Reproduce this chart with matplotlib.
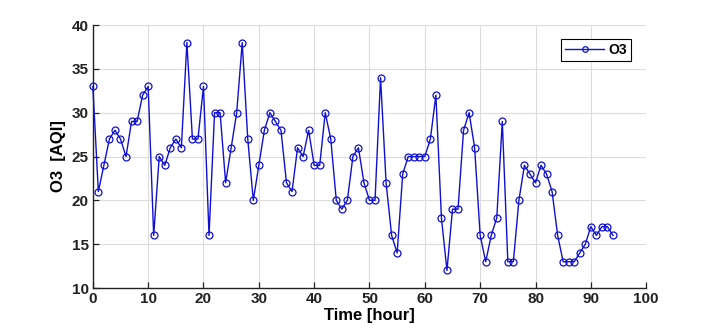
import matplotlib.pyplot as plt

plt.rcParams['font.family'] = ['Liberation Sans', 'DejaVu Sans']

hours = list(range(95))
o3 = [33, 21, 24, 27, 28, 27, 25, 29, 29, 32,
      33, 16, 25, 24, 26, 27, 26, 38, 27, 27,
      33, 16, 30, 30, 22, 26, 30, 38, 27, 20,
      24, 28, 30, 29, 28, 22, 21, 26, 25, 28,
      24, 24, 30, 27, 20, 19, 20, 25, 26, 22,
      20, 20, 34, 22, 16, 14, 23, 25, 25, 25,
      25, 27, 32, 18, 12, 19, 19, 28, 30, 26,
      16, 13, 16, 18, 29, 13, 13, 20, 24, 23,
      22, 24, 23, 21, 16, 13, 13, 13, 14, 15,
      17, 16, 17, 17, 16]
x_ticks = [0, 10, 20, 30, 40, 50, 60, 70, 80, 90, 100]
y_ticks = [10, 15, 20, 25, 30, 35, 40]

fig = plt.figure(figsize=(7.14, 3.32), dpi=100)
ax = fig.add_axes([0.130, 0.1325, 0.775, 0.792])

ax.plot(hours, o3, color='#1010d0', linewidth=1.0, marker='o',
        markersize=5, markerfacecolor='none', markeredgewidth=0.9,
        label='O3', clip_on=False, zorder=3)

ax.set_xlim(0, 100)
ax.set_ylim(10, 40)
ax.set_xticks(x_ticks)
ax.set_yticks(y_ticks)
ax.grid(True, color='#dcdcdc', linewidth=0.8)
ax.set_axisbelow(True)

for side in ['top', 'right']:
    ax.spines[side].set_visible(False)
for side in ['left', 'bottom']:
    ax.spines[side].set_linewidth(1.0)
    ax.spines[side].set_color('#222222')

ax.tick_params(direction='in', length=4, width=0.9, labelsize=11,
               colors='#222222', pad=3)
for lbl in ax.get_xticklabels() + ax.get_yticklabels():
    lbl.set_fontweight('bold')

ax.set_xlabel('Time [hour]', fontsize=12, fontweight='bold', labelpad=1)
ax.set_ylabel('O3  [AQI]', fontsize=12, fontweight='bold', labelpad=4)

leg = ax.legend(loc='upper right', fontsize=10, prop={'weight': 'bold'},
                fancybox=False, framealpha=1, edgecolor='black',
                handlelength=2.8, borderpad=0.3, handletextpad=0.3,
                markerscale=0.8, bbox_to_anchor=(0.985, 0.975))
leg.get_frame().set_linewidth(0.8)

fig.savefig('out.png', dpi=100)
